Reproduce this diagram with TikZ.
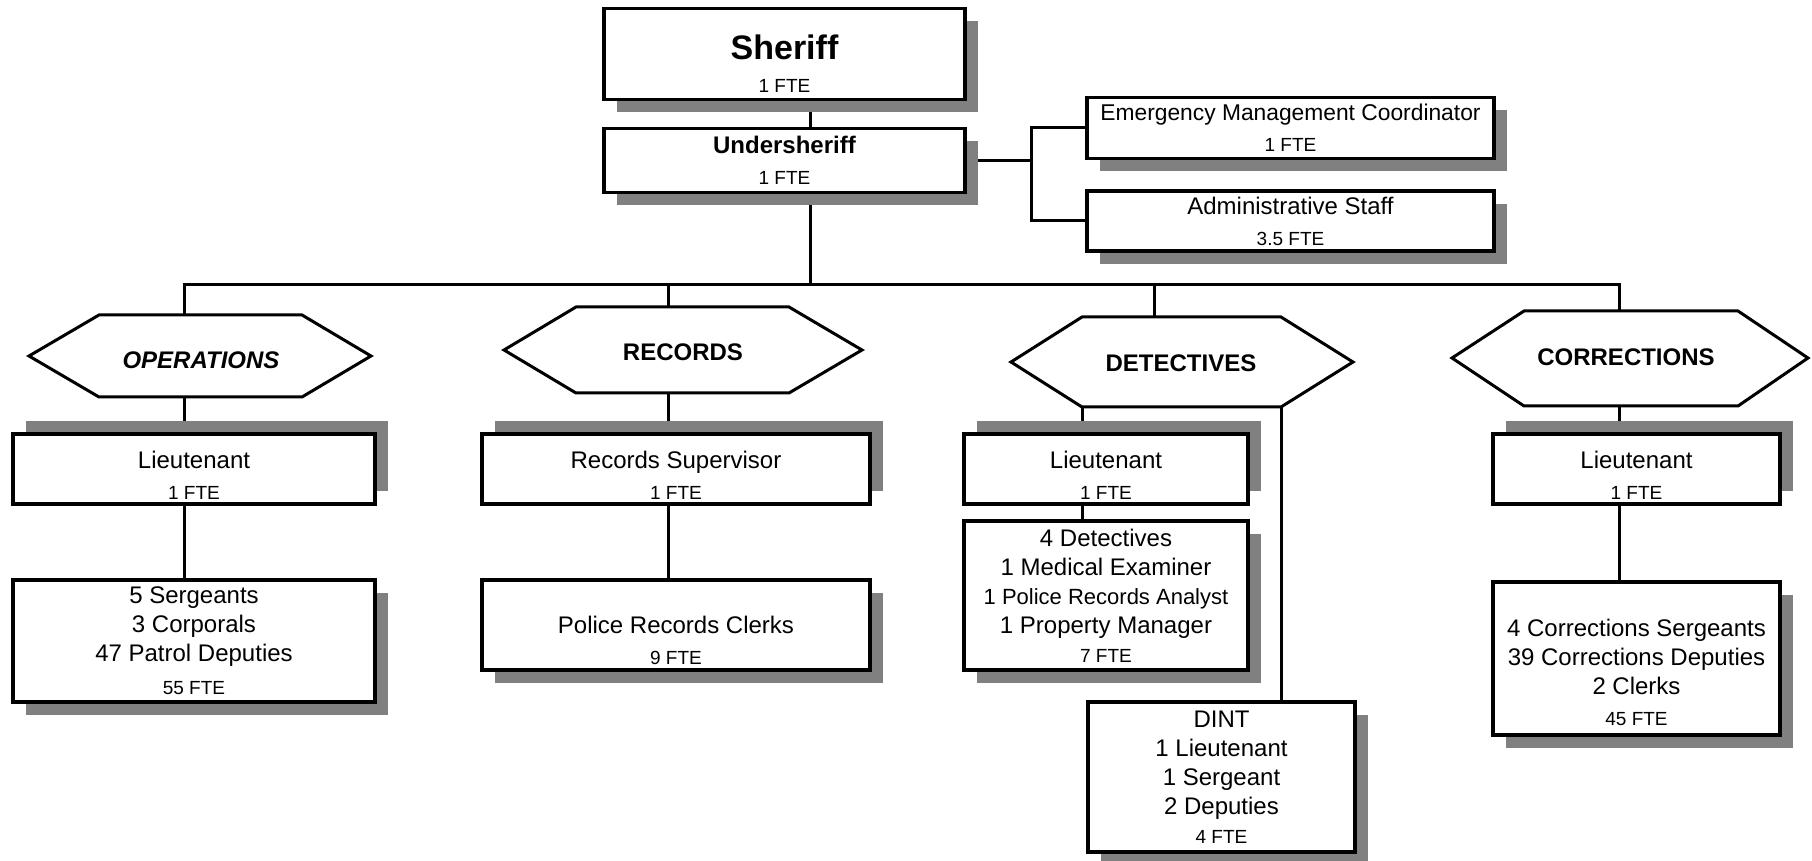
\documentclass[tikz,border=0pt]{standalone}
\usepackage{fontspec}
\setmainfont{Liberation Sans}
\usetikzlibrary{shadows,backgrounds}
\definecolor{shadowgray}{HTML}{808080}
\newcommand{\fte}[1]{{\fontsize{9.5}{11}\selectfont #1}}

\begin{document}
\begin{tikzpicture}[x=0.5pt,y=-0.5pt,
  box/.style={draw,line width=1.75pt,fill=white,align=center,inner sep=0pt,font=\fontsize{12}{14.5}\selectfont},
  boxdn/.style={box,drop shadow={shadow xshift=6.5pt,shadow yshift=-6.5pt,fill=shadowgray,opacity=1}},
  boxup/.style={box,drop shadow={shadow xshift=6.5pt,shadow yshift=6.5pt,fill=shadowgray,opacity=1}},
  hex/.style={line width=1.5pt},
  hexlabel/.style={font=\fontsize{12}{14.5}\selectfont\bfseries},
  link/.style={line width=1.5pt}]
\useasboundingbox (0,0) rectangle (1812,861);

\node[boxdn,minimum width=180.5pt,minimum height=45.5pt] (sheriff) at (784.5,54) {\rule{0pt}{22.5pt}{\fontsize{17}{20}\selectfont\bfseries Sheriff}\\[2pt]\fte{1 FTE}};
\node[boxdn,minimum width=180.5pt,minimum height=32pt] (under) at (784.5,160.5) {\textbf{Undersheriff}\\[1pt]\fte{1 FTE}};
\node[boxdn,minimum width=203.5pt,minimum height=30.5pt] (emc) at (1290.5,128) {{\fontsize{11.4}{14.5}\selectfont Emergency Management Coordinator}\\[1pt]\fte{1 FTE}};
\node[boxdn,minimum width=203.5pt,minimum height=30pt] (admin) at (1290.5,221) {Administrative Staff\\[1pt]\fte{3.5 FTE}};

\draw[hex] (29,356) -- (99,315) -- (302,315) -- (371,356) -- (302,397) -- (99,397) -- cycle;
\node[hexlabel] (ops) at (201,360) {\itshape OPERATIONS};
\coordinate (opsN) at (184,315);
\coordinate (opsS) at (184,397);
\draw[hex] (504,350) -- (576,307) -- (789,307) -- (862,350) -- (789,393) -- (576,393) -- cycle;
\node[hexlabel] (rec) at (683,352) {RECORDS};
\coordinate (recN) at (668,307);
\coordinate (recS) at (668,393);
\draw[hex] (1011,362) -- (1082,317) -- (1281,317) -- (1353,362) -- (1281,407) -- (1082,407) -- cycle;
\node[hexlabel] (det) at (1181,363) {DETECTIVES};
\coordinate (detN) at (1154,317);
\coordinate (detSW) at (1082,407);
\coordinate (detSE) at (1281,407);
\draw[hex] (1452,358) -- (1524,311) -- (1738,311) -- (1808,358) -- (1738,406) -- (1524,406) -- cycle;
\node[hexlabel] (cor) at (1626,357) {CORRECTIONS};
\coordinate (corN) at (1619,311);
\coordinate (corS) at (1619,406);

\node[boxup,minimum width=181pt,minimum height=35pt] (opsLt) at (194,469) {\rule{0pt}{15.5pt}Lieutenant\\[1pt]\fte{1 FTE}};
\node[boxup,minimum width=194pt,minimum height=35pt] (recSup) at (676,469) {\rule{0pt}{15.5pt}Records Supervisor\\[1pt]\fte{1 FTE}};
\node[boxup,minimum width=142pt,minimum height=35pt] (detLt) at (1106,469) {\rule{0pt}{15.5pt}Lieutenant\\[1pt]\fte{1 FTE}};
\node[boxup,minimum width=143.5pt,minimum height=35pt] (corLt) at (1636.5,469) {\rule{0pt}{15.5pt}Lieutenant\\[1pt]\fte{1 FTE}};

\node[boxdn,minimum width=181pt,minimum height=61pt] (opsSgt) at (194,641) {5 Sergeants\\3 Corporals\\47 Patrol Deputies\\[2pt]\fte{55 FTE}};
\node[boxdn,minimum width=194pt,minimum height=45pt] (recClk) at (676,625) {\rule{0pt}{24pt}Police Records Clerks\\[1pt]\fte{9 FTE}};
\node[boxdn,minimum width=142pt,minimum height=74.5pt] (detBox) at (1106,595.5) {4 Detectives\\1 Medical Examiner\\{\fontsize{11}{13}\selectfont 1 Police Records Analyst}\\1 Property Manager\\\fte{7 FTE}};
\node[boxdn,minimum width=133.5pt,minimum height=75pt] (dint) at (1221.5,777) {DINT\\1 Lieutenant\\1 Sergeant\\2 Deputies\\\fte{4 FTE}};
\node[boxdn,minimum width=143.5pt,minimum height=76.5pt] (corBox) at (1636.5,658.5) {\rule{0pt}{22.2pt}4 Corrections Sergeants\\39 Corrections Deputies\\2 Clerks\\[1pt]\fte{45 FTE}};

\begin{pgfonlayer}{background}
\coordinate (trunk) at (810,285);
\draw[link] (sheriff.south -| trunk) -- (under.north -| trunk);
\draw[link] (under.south -| trunk) -- (trunk);
\draw[link] (under.east) -- ++(65,0) coordinate (fork);
\draw[link] (emc.west) -| (fork) |- (admin.west);
\draw[link] (opsN) |- (trunk);
\draw[link] (recN) |- (trunk);
\draw[link] (detN) |- (trunk);
\draw[link] (corN) |- (trunk);
\draw[link] (opsS) -- (opsLt.north -| opsS);
\draw[link] (opsLt.south -| opsS) -- (opsSgt.north -| opsS);
\draw[link] (recS) -- (recSup.north -| recS);
\draw[link] (recSup.south -| recS) -- (recClk.north -| recS);
\draw[link] (detSW) -- (detLt.north -| detSW);
\draw[link] (detLt.south -| detSW) -- (detBox.north -| detSW);
\draw[link] (detSE) -- (dint.north -| detSE);
\draw[link] (corS) -- (corLt.north -| corS);
\draw[link] (corLt.south -| corS) -- (corBox.north -| corS);
\end{pgfonlayer}
\end{tikzpicture}
\end{document}
